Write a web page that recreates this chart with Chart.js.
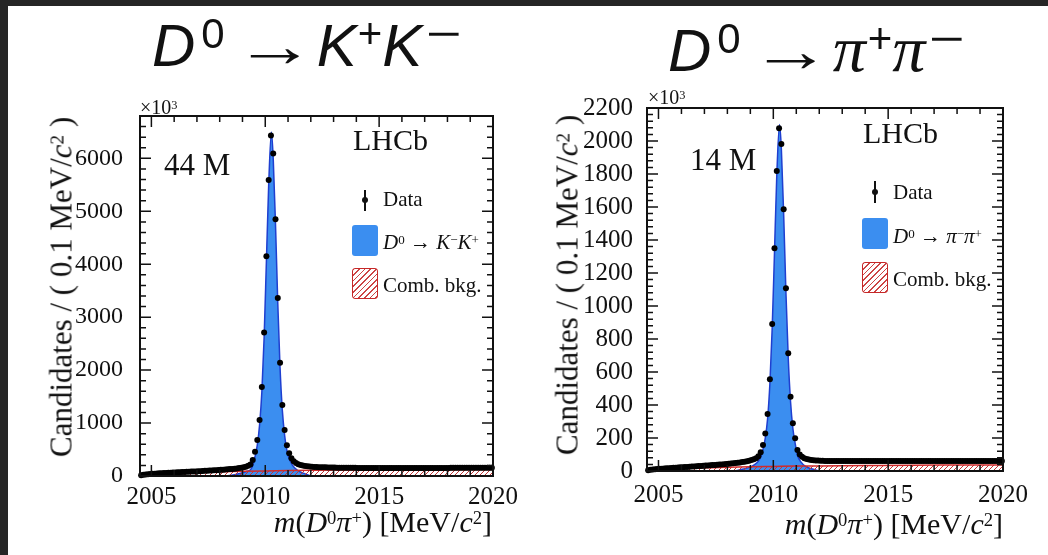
<!DOCTYPE html>
<html><head><meta charset="utf-8">
<script src="https://cdn.jsdelivr.net/npm/chart.js@4"></script>
<style>
html,body{margin:0;padding:0;background:#262626;}
#wrap{position:relative;width:1048px;height:555px;overflow:hidden;background:#262626;}
#paper{position:absolute;left:8px;top:6px;width:1040px;height:549px;background:#fff;}
canvas{position:absolute;top:0;}
.t{position:absolute;color:#111;font-family:'Liberation Serif','Times New Roman',serif;white-space:nowrap;line-height:1;}
.title{position:absolute;top:16px;color:#111;font-family:'Liberation Sans',Arial,sans-serif;font-size:60px;line-height:1;white-space:nowrap;}
.title i{font-style:italic;}
.title .sp{font-size:42px;position:relative;top:-18px;}
.title .mn{display:inline-block;transform:scaleX(1.45);transform-origin:left center;}
.title .arr{font-family:'Liberation Serif',serif;display:inline-block;transform:scaleX(1.35);margin:0 12px 0 20px;}
.title .pi{font-family:'Liberation Serif',serif;font-style:italic;font-size:66px;}
.sup{font-size:0.62em;position:relative;top:-0.42em;}
.ytitle{position:absolute;font-size:31px;transform:translate(-50%,-50%) rotate(-90deg);}
.box{position:absolute;width:26px;height:31px;box-sizing:border-box;border-radius:3px;}
.blue{background:#3b8ef0;}
.hatch{border:1.5px solid #c62828;background:repeating-linear-gradient(135deg,#c44 0 1px,#fff 1px 4px);}
.ebar{position:absolute;width:1.5px;background:#111;}
.dot{position:absolute;width:6px;height:6px;border-radius:50%;background:#111;}
</style></head>
<body>
<div id="wrap">
<div id="paper"></div>
<canvas id="c1" width="524" height="555" style="left:0"></canvas>
<canvas id="c2" width="524" height="555" style="left:524px"></canvas>

<div class="title" style="left:152px;"><i>D</i><span class="sp" style="margin-left:6px">0</span><span class="arr">→</span><i>K</i><span class="sp" style="margin-left:1px">+</span><i>K</i><span class="sp mn" style="margin-left:4px">−</span></div>
<div class="title" style="left:668px;"><i>D</i><span class="sp" style="margin-left:6px">0</span><span class="arr">→</span><span class="pi">π</span><span class="sp" style="margin-left:2px">+</span><span class="pi">π</span><span class="sp mn" style="margin-left:4px">−</span></div>

<div class="t" style="left:140px;top:97px;font-size:20px;">×10<span class="sup">3</span></div>
<div class="t" style="left:648px;top:87px;font-size:20px;">×10<span class="sup">3</span></div>

<div class="t" style="left:164px;top:149px;font-size:31px;">44 M</div>
<div class="t" style="left:690px;top:144px;font-size:31px;">14 M</div>
<div class="t" style="left:353px;top:125px;font-size:30px;">LHCb</div>
<div class="t" style="left:863px;top:118px;font-size:30px;">LHCb</div>

<!-- legend left -->
<div class="ebar" style="left:364.3px;top:190px;height:21px;"></div>
<div class="dot" style="left:362px;top:197px;"></div>
<div class="t" style="left:383px;top:189px;font-size:21px;">Data</div>
<div class="box blue" style="left:352px;top:225px;"></div>
<div class="t" style="left:383px;top:232px;font-size:21px;"><i>D</i><span class="sup">0</span> → <i>K</i><span class="sup">−</span><i>K</i><span class="sup">+</span></div>
<div class="box hatch" style="left:352px;top:268px;"></div>
<div class="t" style="left:383px;top:275px;font-size:21px;">Comb. bkg.</div>

<!-- legend right -->
<div class="ebar" style="left:874.3px;top:181px;height:22px;"></div>
<div class="dot" style="left:872px;top:189px;"></div>
<div class="t" style="left:893px;top:182px;font-size:21px;">Data</div>
<div class="box blue" style="left:862px;top:218px;"></div>
<div class="t" style="left:893px;top:226px;font-size:21px;"><i>D</i><span class="sup">0</span> → <i>π</i><span class="sup">−</span><i>π</i><span class="sup">+</span></div>
<div class="box hatch" style="left:862px;top:262px;"></div>
<div class="t" style="left:893px;top:269px;font-size:21px;">Comb. bkg.</div>

<div class="t ytitle" style="left:61px;top:287px;">Candidates / ( 0.1 MeV/<i>c</i><span class="sup">2</span> )</div>
<div class="t ytitle" style="left:567px;top:285px;">Candidates / ( 0.1 MeV/<i>c</i><span class="sup">2</span> )</div>

<div class="t" style="left:0;width:492px;text-align:right;top:507px;font-size:30px;"><i>m</i>(<i>D</i><span class="sup">0</span><i>π</i><span class="sup">+</span>) [MeV/<i>c</i><span class="sup">2</span>]</div>
<div class="t" style="left:524px;width:479px;text-align:right;top:509px;font-size:30px;"><i>m</i>(<i>D</i><span class="sup">0</span><i>π</i><span class="sup">+</span>) [MeV/<i>c</i><span class="sup">2</span>]</div>
</div>

<script>
// ---- data (values in units of 10^3 candidates per 0.1 MeV/c^2) ----
const firstBinCentre = 2004.55;
const binWidth = 0.1;
const xTickLabels = [2005, 2010, 2015, 2020];
const yTicksKK = [0, 1000, 2000, 3000, 4000, 5000, 6000];
const yTicksPiPi = [0, 200, 400, 600, 800, 1000, 1200, 1400, 1600, 1800, 2000, 2200];

const dataKK = [
  12, 22, 28, 33, 37, 41, 44, 47, 50, 53,
  56, 58, 61, 63, 65, 68, 70, 72, 74, 76,
  79, 81, 83, 85, 87, 90, 92, 94, 97, 99,
  102, 104, 107, 110, 113, 116, 119, 122, 126, 130,
  134, 139, 144, 150, 157, 165, 176, 192, 218, 300,
  460, 680, 1060, 1680, 2710, 4150, 5590, 6430, 6090, 4850,
  3360, 2140, 1340, 870, 580, 430, 335, 280, 245, 222,
  206, 196, 188, 182, 178, 174, 171, 169, 167, 166,
  164, 163, 162, 161, 160, 159, 158, 158, 157, 156,
  156, 155, 155, 154, 154, 153, 153, 153, 152, 152,
  152, 151, 151, 151, 151, 150, 150, 150, 150, 150,
  150, 150, 150, 150, 150, 151, 151, 151, 151, 151,
  151, 151, 152, 152, 152, 152, 152, 152, 152, 153,
  153, 153, 153, 153, 153, 153, 154, 154, 154, 154,
  154, 154, 154, 155, 155, 155, 155, 155, 155, 156,
  156, 156, 156, 156, 156
];
const dataPiPi = [
  4, 7, 9, 11, 12, 13, 14, 15, 16, 17,
  18, 19, 20, 21, 22, 23, 24, 25, 26, 27,
  28, 29, 30, 31, 32, 33, 34, 35, 36, 37,
  38, 39, 40, 41, 42, 44, 45, 47, 48, 50,
  52, 54, 56, 59, 62, 66, 71, 78, 90, 114,
  158, 228, 345, 556, 891, 1350, 1818, 2077, 1982, 1586,
  1107, 713, 450, 289, 198, 127, 100, 86, 78, 73,
  69, 67, 65, 64, 63, 62, 62, 61, 61, 61,
  60, 60, 60, 60, 60, 60, 60, 60, 60, 60,
  60, 60, 60, 60, 60, 60, 60, 60, 60, 60,
  60, 60, 60, 60, 60, 60, 60, 60, 60, 60,
  60, 60, 60, 60, 60, 60, 60, 60, 60, 60,
  60, 60, 60, 60, 61, 61, 61, 61, 61, 61,
  61, 61, 61, 61, 61, 61, 61, 61, 61, 61,
  61, 61, 61, 61, 61, 61, 61, 61, 61, 61,
  61, 61, 61, 61, 61
];

const bkgMass = [2004.5, 2004.6, 2004.8, 2005, 2005.5, 2006, 2007, 2008, 2009, 2010, 2011, 2012, 2014, 2016, 2018, 2020];
const bkgKK   = [5, 12, 22, 30, 42, 52, 66, 78, 88, 96, 102, 107, 113, 117, 120, 123];
const bkgPiPi = [1, 3, 6, 8, 12, 15, 19, 23, 26, 28, 30, 31, 33, 35, 36, 37];

const sigMass = [2008.3, 2008.7, 2009.0, 2009.2, 2009.35, 2009.45, 2009.55, 2009.65, 2009.75, 2009.85, 2009.95, 2010.05, 2010.15, 2010.27, 2010.35, 2010.45, 2010.55, 2010.65, 2010.75, 2010.85, 2010.95, 2011.05, 2011.2, 2011.4, 2011.7, 2012.0];
const sigKK   = [0, 30, 60, 90, 120, 200, 364, 583, 963, 1582, 2612, 4050, 5490, 6500, 5990, 4750, 3260, 2040, 1240, 770, 480, 330, 200, 110, 50, 0];
const sigPiPi = [0, 12, 25, 40, 60, 85, 130, 200, 316, 527, 862, 1320, 1788, 2100, 1952, 1556, 1077, 683, 420, 259, 168, 97, 55, 28, 12, 0];

// ---- helpers ----
const pts = (xs, ys) => ys.map((y, i) => ({x: xs[i], y}));
const binPts = ys => ys.map((y, i) => ({x: +(firstBinCentre + i * binWidth).toFixed(2), y}));

function hatchPattern(ctx) {
  const c = document.createElement('canvas');
  c.width = 5; c.height = 5;
  const g = c.getContext('2d');
  g.strokeStyle = '#c23434'; g.lineWidth = 1;
  g.beginPath();
  g.moveTo(0, 5); g.lineTo(5, 0);
  g.moveTo(-1, 1); g.lineTo(1, -1);
  g.moveTo(4, 6); g.lineTo(6, 4);
  g.stroke();
  return ctx.createPattern(c, 'repeat');
}

const frameTicks = {
  id: 'frameTicks',
  afterDatasetsDraw(chart, args, o) {
    const {ctx, chartArea: a, scales: {x, y}} = chart;
    ctx.save();
    ctx.strokeStyle = '#111';
    ctx.lineWidth = 1.5;
    ctx.beginPath();
    for (let v = Math.ceil(x.min); v <= x.max + 1e-9; v += o.xMinor) {
      const px = x.getPixelForValue(v);
      const L = o.xMajor.includes(v) ? 11 : 6;
      ctx.moveTo(px, a.bottom); ctx.lineTo(px, a.bottom - L);
      ctx.moveTo(px, a.top); ctx.lineTo(px, a.top + L);
    }
    for (let k = 0; y.min + k * o.yMinor <= y.max + 1e-9; k++) {
      const v = y.min + k * o.yMinor;
      const py = y.getPixelForValue(v);
      const L = o.yMajor.includes(v) ? 11 : 6;
      ctx.moveTo(a.left, py); ctx.lineTo(a.left + L, py);
      ctx.moveTo(a.right, py); ctx.lineTo(a.right - L, py);
    }
    ctx.stroke();
    ctx.lineWidth = 2;
    ctx.strokeRect(a.left, a.top, a.right - a.left, a.bottom - a.top);
    ctx.restore();
  }
};

function makeChart(id, data, sig, bkg, yTicks, yMax, yMinor, padding, xPad, yPad, ySize) {
  const canvas = document.getElementById(id);
  const ctx = canvas.getContext('2d');
  const fam = "'Liberation Serif','Times New Roman',serif";
  return new Chart(ctx, {
    type: 'line',
    data: {
      datasets: [
        {label: 'Data', data: binPts(data), showLine: false, pointRadius: 3, pointHoverRadius: 0,
         pointBackgroundColor: '#000', pointBorderWidth: 0, order: 0, clip: false},
        {label: 'Comb. bkg.', data: pts(bkgMass, bkg), fill: 'origin', backgroundColor: hatchPattern(ctx),
         borderColor: '#d02a2a', borderWidth: 1.5, pointRadius: 0, cubicInterpolationMode: 'monotone', order: 1},
        {label: 'Signal', data: pts(sigMass, sig), fill: 'origin', backgroundColor: '#3b8ef0',
         borderColor: '#1f3fd0', borderWidth: 1.5, pointRadius: 0, cubicInterpolationMode: 'monotone', order: 2}
      ]
    },
    options: {
      responsive: false, animation: false, devicePixelRatio: 1,
      layout: {padding},
      plugins: {legend: {display: false}, tooltip: {enabled: false},
        frameTicks: {xMinor: 1, xMajor: xTickLabels, yMinor, yMajor: yTicks}},
      scales: {
        x: {type: 'linear', min: 2004.5, max: 2020, grid: {display: false}, border: {display: false},
            afterBuildTicks: s => { s.ticks = xTickLabels.map(v => ({value: v})); },
            afterFit: s => { s.height = 40; },
            ticks: {font: {family: fam, size: 25}, color: '#111', padding: xPad, maxRotation: 0, autoSkip: false, callback: v => String(v)}},
        y: {type: 'linear', min: 0, max: yMax, grid: {display: false}, border: {display: false},
            afterBuildTicks: s => { s.ticks = yTicks.map(v => ({value: v})); },
            afterFit: s => { s.width = 70; },
            ticks: {font: {family: fam, size: ySize}, color: '#111', padding: yPad, autoSkip: false, callback: v => String(v)}}
      }
    },
    plugins: [frameTicks]
  });
}

makeChart('c1', dataKK, sigKK, bkgKK, yTicksKK, 6800, 200,
  {left: 70, top: 116, right: 31, bottom: 39}, -2, 9, 24);
makeChart('c2', dataPiPi, sigPiPi, bkgPiPi, yTicksPiPi, 2200, 40,
  {left: 53, top: 108, right: 45, bottom: 44}, 1, 6, 25);
</script>
</body></html>
